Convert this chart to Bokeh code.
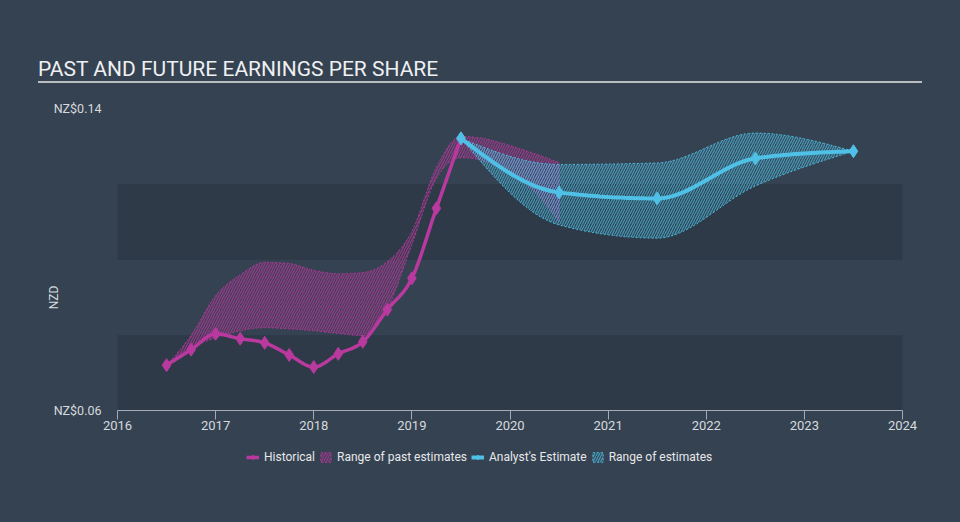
import numpy as np
from bokeh.plotting import figure
from bokeh.layouts import column
from bokeh.models import (FixedTicker, PrintfTickFormatter, Legend, LegendItem, Range1d, Div)
from bokeh.embed import file_html
from bokeh.resources import INLINE

# ---------------- data ----------------
title_text = "PAST AND FUTURE EARNINGS PER SHARE"

hist_years = [2016.5, 2016.75, 2017.0, 2017.25, 2017.5, 2017.75, 2018.0,
              2018.25, 2018.5, 2018.75, 2019.0, 2019.25, 2019.5]
hist_eps = [0.0721, 0.0762, 0.0804, 0.0791, 0.0780, 0.0748, 0.0716,
            0.0751, 0.0783, 0.0868, 0.0951, 0.1136, 0.1321]

est_years = [2019.5, 2020.5, 2021.5, 2022.5, 2023.5]
est_eps = [0.1321, 0.1178, 0.1162, 0.1268, 0.1287]
est_high = [0.1321, 0.1252, 0.1256, 0.1335, 0.1287]
est_low = [0.1321, 0.1092, 0.1057, 0.1195, 0.1287]

past_years = [2016.5, 2016.75, 2017.0, 2017.25, 2017.5, 2017.75, 2018.0, 2018.25,
              2018.5, 2018.75, 2019.0, 2019.25, 2019.5, 2019.75, 2020.0, 2020.25, 2020.5]
past_high = [0.0721, 0.0800, 0.0905, 0.0960, 0.0993, 0.0990, 0.0972, 0.0963,
             0.0966, 0.0995, 0.1075, 0.1245, 0.1326, 0.1320, 0.1302, 0.1281, 0.1257]
past_low = [0.0721, 0.0767, 0.0793, 0.0812, 0.0820, 0.0817, 0.0812, 0.0805,
            0.0799, 0.0870, 0.1040, 0.1215, 0.1270, 0.1260, 0.1227, 0.1180, 0.1100]

x_ticks = [2016, 2017, 2018, 2019, 2020, 2021, 2022, 2023, 2024]
y_ticks = [0.06, 0.14]
band_edges = [0.06, 0.08, 0.10, 0.12, 0.14]
y_floor = 0.04   # lower end of the frame: room for the legend under the x axis

# ---------------- style ----------------
BG = "#354251"
DARK = "#2e3a48"
MAG = "#b9399e"
CYAN = "#4fc1e6"
TXT = "#d6dade"
FONT = "Roboto"
PX_PER_YEAR = 785 / 8        # plot area: 785 px for 2016-2024
PAD_L, PAD_R = 16, 18         # extra frame px so the end tick labels are not clipped


def smooth(xs, ys, steps=24):
    """Monotone cubic (d3 curveMonotoneX style) path through the given points."""
    x = np.asarray(xs, float)
    y = np.asarray(ys, float)
    k = len(x)
    h = np.diff(x)
    s = np.diff(y) / h
    sg = lambda v: -1.0 if v < 0 else 1.0
    t = np.zeros(k)
    for i in range(1, k - 1):
        p_ = (s[i - 1] * h[i] + s[i] * h[i - 1]) / (h[i - 1] + h[i])
        t[i] = (sg(s[i - 1]) + sg(s[i])) * min(abs(s[i - 1]), abs(s[i]), 0.5 * abs(p_))
    t[0] = (3 * s[0] - t[1]) / 2
    t[-1] = (3 * s[-1] - t[-2]) / 2
    ox, oy = [x[0]], [y[0]]
    u = np.linspace(0, 1, steps + 1)[1:]
    h00 = 2 * u**3 - 3 * u**2 + 1
    h10 = u**3 - 2 * u**2 + u
    h01 = -2 * u**3 + 3 * u**2
    h11 = u**3 - u**2
    for i in range(k - 1):
        ox.extend(x[i] + u * h[i])
        oy.extend(h00 * y[i] + h10 * h[i] * t[i] + h01 * y[i + 1] + h11 * h[i] * t[i + 1])
    return np.array(ox), np.array(oy)


# ---------------- header (title + rule) ----------------
header = Div(
    text=('<div style="box-sizing:content-box;padding-top:57px;margin:0 0 0 38px;width:884px;'
          'border-bottom:2px solid #b9bdc2;font-family:Roboto;font-size:21px;'
          'line-height:24px;color:#eef0f2;white-space:nowrap;">%s</div>') % title_text,
    width=960, height=84, margin=0)

# ---------------- main chart ----------------
x0, x1 = x_ticks[0], x_ticks[-1]
p = figure(frame_width=785 + PAD_L + PAD_R, frame_height=378,
           x_range=Range1d(x0 - PAD_L / PX_PER_YEAR, x1 + PAD_R / PX_PER_YEAR),
           y_range=Range1d(y_floor, max(band_edges)), output_backend="svg", toolbar_location=None,
           min_border_left=117 - PAD_L, min_border_right=58 - PAD_R,
           min_border_top=24, min_border_bottom=36,
           background_fill_color=BG, border_fill_color=BG, outline_line_color=None)

p.xgrid.visible = False
p.ygrid.visible = False

# alternating dark bands (0.06-0.08 and 0.10-0.12) across 2016-2024
p.quad(left=x0, right=x1, bottom=band_edges[0:-1:2], top=band_edges[1::2],
       fill_color=DARK, line_color=None, level="underlay")

# axes
xa = p.xaxis[0]
xa.fixed_location = min(band_edges)
xa.bounds = (x0, x1)
xa.ticker = FixedTicker(ticks=x_ticks)
xa.axis_line_color = "#a3acb6"
xa.major_tick_line_color = "#a3acb6"
xa.major_tick_out = 9
xa.major_tick_in = 0
xa.minor_tick_line_color = None
xa.major_label_text_color = TXT
xa.major_label_text_font = FONT
xa.major_label_text_font_size = "13px"
xa.major_label_standoff = 1

ya = p.yaxis[0]
ya.ticker = FixedTicker(ticks=y_ticks)
ya.bounds = (min(band_edges), max(band_edges))
ya.formatter = PrintfTickFormatter(format="NZ$%.2f")
ya.axis_line_color = None
ya.major_tick_line_color = None
ya.minor_tick_line_color = None
ya.major_tick_out = 0
ya.major_tick_in = 0
ya.major_label_standoff = 0
ya.major_label_text_color = TXT
ya.major_label_text_font = FONT
ya.major_label_text_font_size = "12.5px"
ya.axis_label = "NZD"
ya.axis_label_standoff = -10
ya.axis_label_text_color = TXT
ya.axis_label_text_font = FONT
ya.axis_label_text_font_size = "12px"
ya.axis_label_text_font_style = "normal"

# ranges (hatched bands)
px_hi, py_hi = smooth(past_years, past_high)
px_lo, py_lo = smooth(past_years, past_low)
past_band = p.patch(np.concatenate([px_hi, px_lo[::-1]]), np.concatenate([py_hi, py_lo[::-1]]),
                    fill_color=MAG, fill_alpha=0.08, hatch_pattern="/", hatch_color=MAG,
                    hatch_alpha=0.7, hatch_scale=5, hatch_weight=1.2,
                    line_color=MAG, line_alpha=0.9, line_width=1, line_dash="2 2")

ex_hi, ey_hi = smooth(est_years, est_high)
ex_lo, ey_lo = smooth(est_years, est_low)
est_band = p.patch(np.concatenate([ex_hi, ex_lo[::-1]]), np.concatenate([ey_hi, ey_lo[::-1]]),
                   fill_color=CYAN, fill_alpha=0.08, hatch_pattern="/", hatch_color=CYAN,
                   hatch_alpha=0.65, hatch_scale=5, hatch_weight=1.2,
                   line_color=CYAN, line_alpha=0.9, line_width=1, line_dash="2 2")

# lines
hx, hy = smooth(hist_years, hist_eps)
hist_line = p.line(hx, hy, line_color=MAG, line_width=3.5)
hist_pts = p.scatter(hist_years, hist_eps, marker="diamond", size=13, color=MAG)

sx, sy = smooth(est_years, est_eps)
est_line = p.line(sx, sy, line_color=CYAN, line_width=4)
est_pts = p.scatter(est_years, est_eps, marker="diamond", size=13, color=CYAN)

legend = Legend(items=[
    LegendItem(label="Historical", renderers=[hist_line, hist_pts]),
    LegendItem(label="Range of past estimates", renderers=[past_band]),
    LegendItem(label="Analyst's Estimate", renderers=[est_line, est_pts]),
    LegendItem(label="Range of estimates", renderers=[est_band]),
], orientation="horizontal", location=(129 + PAD_L, 22),
    background_fill_alpha=0, border_line_color=None,
    label_text_color="#e6e8ea", label_text_font=FONT, label_text_font_size="12px",
    glyph_width=13, glyph_height=12, label_standoff=5, spacing=4, margin=0, padding=2)
p.add_layout(legend)

layout = column(header, p, spacing=0)
html = file_html(layout, INLINE, title="Past and future earnings per share")
html = html.replace("<body>", '<body style="margin:0;background-color:%s;">' % BG)
open("out.html", "w").write(html)
